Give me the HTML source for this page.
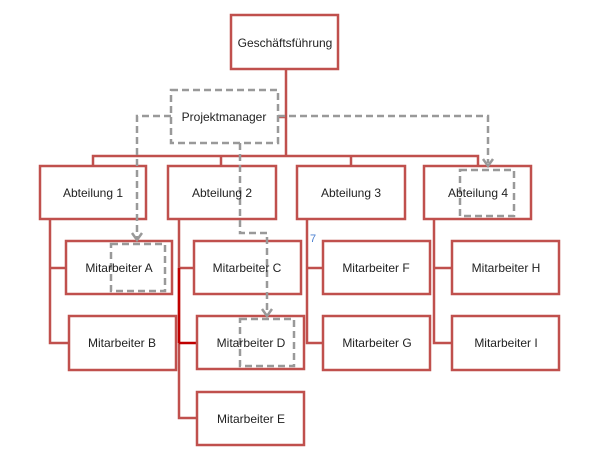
<!DOCTYPE html>
<html><head><meta charset="utf-8"><style>
html,body{margin:0;padding:0;background:#fff;}
svg{display:block;}
text{font-family:"Liberation Sans",sans-serif;font-size:12px;fill:#222;text-anchor:middle;}
</style></head><body>
<svg width="600" height="460" viewBox="0 0 600 460" xmlns="http://www.w3.org/2000/svg">
<g fill="none" stroke="#c0504d" stroke-width="2.5">
  <!-- trunk -->
  <line x1="286" y1="69" x2="286" y2="156"/>
  <line x1="278" y1="117" x2="286" y2="117"/>
  <polyline points="93,166 93,156 478,156 478,166"/>
  <line x1="221" y1="156" x2="221" y2="166"/>
  <line x1="351" y1="156" x2="351" y2="166"/>
  <!-- spines -->
  <polyline points="50,219 50,343 69,343"/>
  <line x1="50" y1="268" x2="66" y2="268"/>
  <polyline points="179,219 179,418 197,418"/>
  <line x1="179" y1="268" x2="194" y2="268"/>
  <line x1="179" y1="343" x2="197" y2="343" stroke="#c00000"/>
  <line x1="179" y1="268" x2="179" y2="343" stroke="#c00000"/>
  <polyline points="307,219 307,343 323,343"/>
  <line x1="307" y1="268" x2="323" y2="268"/>
  <polyline points="434,219 434,343 452,343"/>
  <line x1="434" y1="268" x2="452" y2="268"/>
  <!-- boxes -->
  <rect x="231" y="15" width="107" height="54" fill="#fff"/>
  <rect x="40" y="166" width="106" height="53" fill="#fff"/>
  <rect x="168" y="166" width="108" height="53" fill="#fff"/>
  <rect x="297" y="166" width="108" height="53" fill="#fff"/>
  <rect x="424" y="166" width="107" height="53" fill="#fff"/>
  <rect x="66" y="241" width="106" height="53" fill="#fff"/>
  <rect x="69" y="316" width="107" height="54" fill="#fff"/>
  <rect x="194" y="241" width="107" height="53" fill="#fff"/>
  <rect x="197" y="316" width="107" height="53" fill="#fff"/>
  <rect x="197" y="392" width="107" height="53" fill="#fff"/>
  <rect x="323" y="241" width="107" height="53" fill="#fff"/>
  <rect x="323" y="316" width="107" height="54" fill="#fff"/>
  <rect x="452" y="241" width="107" height="53" fill="#fff"/>
  <rect x="452" y="316" width="107" height="54" fill="#fff"/>
</g>
<g fill="none" stroke="#999" stroke-width="2.5" stroke-dasharray="7,4">
  <rect x="171" y="90" width="107" height="53"/>
  <polyline points="171,116 137,116 137,238"/>
  <polyline points="278,116 488,116 488,163"/>
  <polyline points="240,143 240,233 267,233 267,313"/>
  <rect x="111" y="244" width="54" height="47"/>
  <rect x="240" y="319" width="54" height="47"/>
  <rect x="460" y="170" width="54" height="46"/>
</g>
<g fill="none" stroke="#999" stroke-width="2.5">
  <polyline points="132,233 137,240 142,233"/>
  <polyline points="262,309 267,316 272,309"/>
  <polyline points="483,159 488,166 493,159"/>
</g>
<text x="285" y="47">Geschäftsführung</text>
<text x="224" y="121">Projektmanager</text>
<text x="93" y="197">Abteilung 1</text>
<text x="222" y="197">Abteilung 2</text>
<text x="351" y="197">Abteilung 3</text>
<text x="478" y="197">Abteilung 4</text>
<text x="119" y="272">Mitarbeiter A</text>
<text x="122" y="347">Mitarbeiter B</text>
<text x="247" y="272">Mitarbeiter C</text>
<text x="251" y="347">Mitarbeiter D</text>
<text x="251" y="423">Mitarbeiter E</text>
<text x="376" y="272">Mitarbeiter F</text>
<text x="377" y="347">Mitarbeiter G</text>
<text x="506" y="272">Mitarbeiter H</text>
<text x="506" y="347">Mitarbeiter I</text>
<text x="313" y="242" style="fill:#4a7fd0;font-size:11px">7</text>
</svg>
</body></html>
